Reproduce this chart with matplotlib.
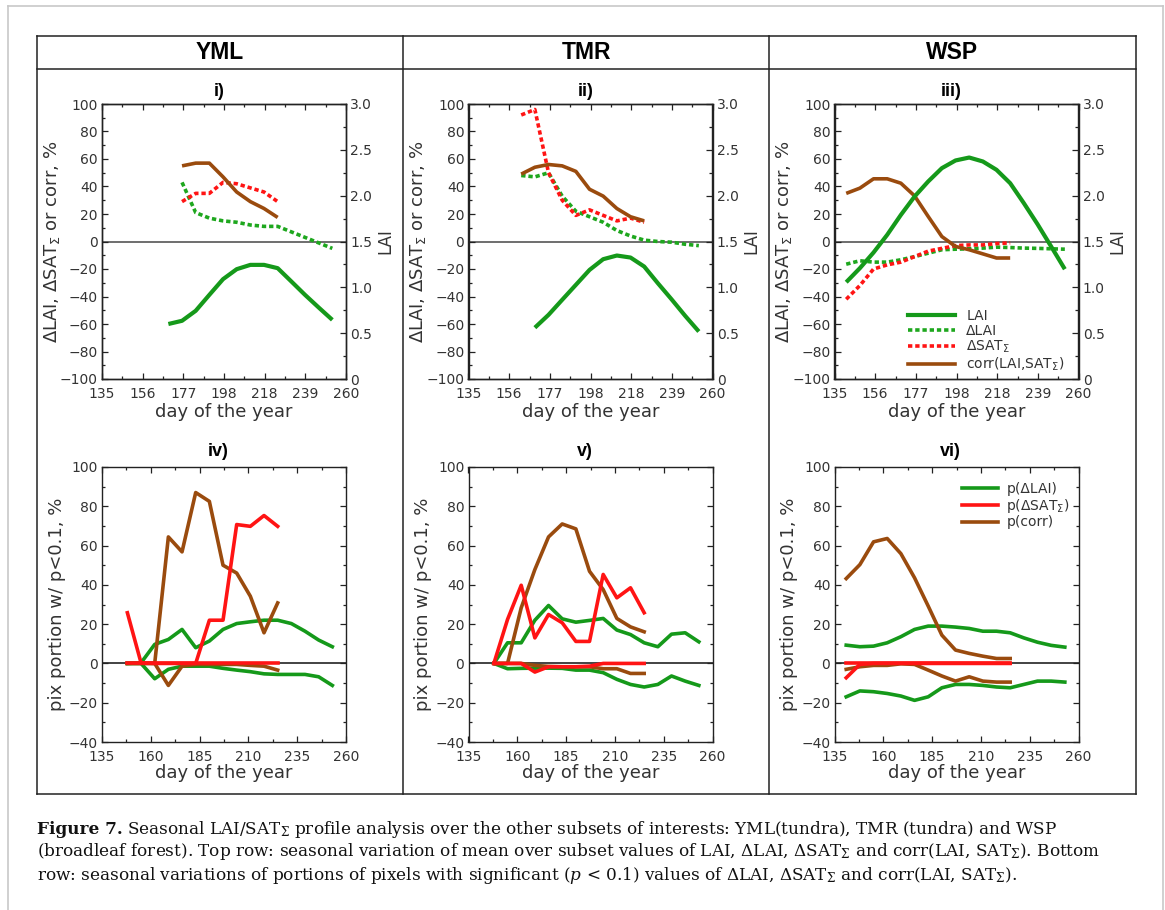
import numpy as np
import matplotlib
matplotlib.use('Agg')
import matplotlib.pyplot as plt
from matplotlib.lines import Line2D
from matplotlib.ticker import MultipleLocator, FixedLocator, FuncFormatter

plt.rcParams['font.family'] = ['DejaVu Sans']
plt.rcParams['mathtext.fontset'] = 'dejavusans'

# ---------------- data ----------------
regions = ['YML', 'TMR', 'WSP']
top_titles = ['i)', 'ii)', 'iii)']
bot_titles = ['iv)', 'v)', 'vi)']
top_xticklabels = ['135', '156', '177', '198', '218', '239', '260']
bot_xticklabels = ['135', '160', '185', '210', '235', '260']

# top row, YML
yml_lai_day = [169, 176, 183, 190, 197, 204, 211, 218, 225, 232, 239, 246, 253]
yml_lai = [0.60, 0.635, 0.744, 0.918, 1.089, 1.198, 1.245, 1.245, 1.209, 1.064, 0.918, 0.78, 0.645]
yml_dlai_day = [176, 183, 190, 197, 204, 211, 218, 225, 232, 239, 246, 253]
yml_dlai = [43, 21, 17, 15, 14, 12, 11, 11, 7, 3, -1, -5]
yml_var_day = [176, 183, 190, 197, 204, 211, 218, 225]
yml_dsat = [29, 35, 35, 43, 42, 39, 36, 29]
yml_corr = [55, 57, 57, 47, 36, 29, 24, 17.5]

# top row, TMR
tmr_lai_day = [169, 176, 183, 190, 197, 204, 211, 218, 225, 232, 239, 246, 253]
tmr_lai = [0.56, 0.70, 0.864, 1.027, 1.19, 1.307, 1.347, 1.325, 1.227, 1.045, 0.87, 0.689, 0.518]
tmr_dlai_day = [162, 169, 176, 183, 190, 197, 204, 211, 218, 225, 232, 239, 246, 253]
tmr_dlai = [48, 47, 50, 33, 22, 18, 14, 8, 4, 1, 0, -0.5, -2, -3]
tmr_var_day = [162, 169, 176, 183, 190, 197, 204, 211, 218, 225]
tmr_dsat = [92, 96, 50, 30, 19, 23, 19, 15, 17, 14]
tmr_corr = [49, 54, 56, 55, 51, 38, 33, 24, 18, 15]

# top row, WSP
wsp_lai_day = [141, 148, 155, 162, 169, 176, 183, 190, 197, 204, 211, 218, 225, 232, 239, 246, 253]
wsp_lai = [1.056, 1.209, 1.38, 1.573, 1.79, 1.99, 2.155, 2.3, 2.384, 2.416, 2.373, 2.282,
           2.136, 1.918, 1.689, 1.445, 1.198]
wsp_dlai = [-16.5, -14, -15, -15, -13.3, -11, -8.5, -6, -5.6, -5.3, -4.8, -4.1, -4.4, -4.8,
            -5, -5.3, -5.6]
wsp_var_day = [141, 148, 155, 162, 169, 176, 183, 190, 197, 204, 211, 218, 225]
wsp_dsat = [-42, -32, -20, -17, -15, -11, -7, -5, -3, -2.5, -2.5, -1.5, -1]
wsp_corr = [35, 38.8, 45.6, 45.6, 42.4, 33.2, 18.2, 3.6, -3.6, -6, -9, -12, -12]

# bottom row, YML
yml_p_day = [148, 155, 162, 169, 176, 183, 190, 197, 204, 211, 218, 225, 232, 239, 246, 253]
yml_p_lai_pos = [0, 0.3, 9.7, 12.2, 17.3, 8, 11.4, 17.3, 20.3, 21.2, 22, 22, 20.3, 16.4, 11.9, 8.5]
yml_p_lai_neg = [0, 0, -7.8, -3, -1.4, -1.4, -1.4, -2.5, -3.4, -4.2, -5.3, -5.6, -5.6, -5.6, -6.8, -11.2]
yml_pv_day = [148, 155, 162, 169, 176, 183, 190, 197, 204, 211, 218, 225]
yml_p_sat_pos = [25.8, 0.3, 0, 0, 0, 0, 22, 22, 70.7, 69.8, 75.3, 69.8]
yml_p_sat_neg = [0, 0, 0, 0, 0, 0, 0, 0, 0, 0, 0, 0]
yml_p_corr_pos = [0, 0, 0, 64.4, 56.8, 87, 82.5, 50, 46, 34.2, 15.6, 30.8]
yml_p_corr_neg = [0, 0, 0, -11.2, -1.4, -0.5, -0.5, -0.5, -0.5, -1, -1.4, -3.4]

# bottom row, TMR
tmr_p_day = [148, 155, 162, 169, 176, 183, 190, 197, 204, 211, 218, 225, 232, 239, 246, 253]
tmr_p_lai_pos = [0, 10.5, 10.5, 22, 29.5, 22.7, 21, 21.9, 22.9, 17, 14.7, 10.5, 8.5, 14.9, 15.6, 11]
tmr_p_lai_neg = [0, -2.7, -2.5, -2.4, -2.4, -2.5, -3.4, -3.4, -4.7, -8.1, -10.7, -12, -10.7, -6.4, -9, -11.2]
tmr_pv_day = [148, 155, 162, 169, 176, 183, 190, 197, 204, 211, 218, 225]
tmr_p_sat_pos = [0, 22.4, 39.8, 13, 24.9, 20.7, 11.2, 11.2, 45.3, 33.4, 38.5, 25.8]
tmr_p_sat_neg = [0, 0, 0, -4.4, -1.7, -1.7, -1.7, -1.4, 0, 0, 0, 0]
tmr_p_corr_pos = [0, 0, 28.3, 47.8, 64.4, 71, 68.5, 46.9, 37.6, 22.9, 18.6, 16.1]
tmr_p_corr_neg = [0, 0, 0, -1, -1.5, -1.7, -1.7, -1.7, -2.7, -2.7, -5.1, -5.1]

# bottom row, WSP
wsp_p_day = [141, 148, 155, 162, 169, 176, 183, 190, 197, 204, 211, 218, 225, 232, 239, 246, 253]
wsp_p_lai_pos = [9.3, 8.5, 8.8, 10.5, 13.6, 17.3, 19, 19, 18.5, 17.8, 16.4, 16.4, 15.6, 13, 10.8, 9.2, 8.3]
wsp_p_lai_neg = [-17, -14, -14.4, -15.3, -16.6, -18.8, -17, -12.4, -10.7, -10.7, -11.2, -12, -12.4,
                 -10.7, -9, -9, -9.5]
wsp_pv_day = [141, 148, 155, 162, 169, 176, 183, 190, 197, 204, 211, 218, 225]
wsp_p_sat_pos = [0, 0, 0, 0, 0, 0, 0, 0, 0, 0, 0, 0, 0]
wsp_p_sat_neg = [-7.3, -0.5, 0, 0, 0, 0, 0, 0, 0, 0, 0, 0, 0]
wsp_p_corr_pos = [43.2, 50.3, 61.9, 63.6, 55.9, 43.6, 29.2, 14.4, 6.8, 5.1, 3.7, 2.5, 2.5]
wsp_p_corr_neg = [-3, -1.7, -1, -1, -0.2, -0.5, -3.4, -6.4, -9, -6.8, -9, -9.5, -9.5]

top_data = [
    (yml_lai_day, yml_lai, yml_dlai_day, yml_dlai, yml_var_day, yml_dsat, yml_corr),
    (tmr_lai_day, tmr_lai, tmr_dlai_day, tmr_dlai, tmr_var_day, tmr_dsat, tmr_corr),
    (wsp_lai_day, wsp_lai, wsp_lai_day, wsp_dlai, wsp_var_day, wsp_dsat, wsp_corr),
]
bot_data = [
    (yml_p_day, yml_p_lai_pos, yml_p_lai_neg, yml_pv_day, yml_p_sat_pos, yml_p_sat_neg,
     yml_p_corr_pos, yml_p_corr_neg),
    (tmr_p_day, tmr_p_lai_pos, tmr_p_lai_neg, tmr_pv_day, tmr_p_sat_pos, tmr_p_sat_neg,
     tmr_p_corr_pos, tmr_p_corr_neg),
    (wsp_p_day, wsp_p_lai_pos, wsp_p_lai_neg, wsp_pv_day, wsp_p_sat_pos, wsp_p_sat_neg,
     wsp_p_corr_pos, wsp_p_corr_neg),
]

# ---------------- style ----------------
GREEN = '#15991a'
GREEN_DOT = '#1ea71e'
RED = '#ff1414'
BROWN = '#9a4b0e'
TXT = '#333333'
DOT = (0, (1.2, 0.8))
LW = 2.6

W, H = 1165, 910
fig = plt.figure(figsize=(W / 100, H / 100), dpi=100)


def fx(px):
    return px / W


def fy(py):
    return 1 - py / H


def hline(x0, x1, y, **kw):
    fig.add_artist(Line2D([fx(x0), fx(x1)], [fy(y), fy(y)], transform=fig.transFigure, **kw))


def vline(x, y0, y1, **kw):
    fig.add_artist(Line2D([fx(x), fx(x)], [fy(y0), fy(y1)], transform=fig.transFigure, **kw))


# outer light frame
hline(7.5, 1163, 6, color='#c8c8c8', lw=1.2)
vline(7.5, 6, 910, color='#c8c8c8', lw=1.2)
vline(1163, 6, 910, color='#c8c8c8', lw=1.2)

# table box
box = dict(color='#222222', lw=1.1)
hline(36.7, 1135.7, 36, **box)
hline(36.7, 1135.7, 69, **box)
hline(36.7, 1135.7, 794.3, **box)
for xx in [36.7, 403, 769, 1135.7]:
    vline(xx, 36, 794.3, **box)
for xc, name in zip([220, 586, 952], regions):
    fig.text(fx(xc), fy(52.5), name, ha='center', va='center', fontsize=16.5,
             fontweight='bold', family='Liberation Sans')

col_left = [102, 468.5, 834.5]
AX_W, AX_H = 244, 275


def style_ticks(ax):
    ax.tick_params(which='both', direction='in', top=True, colors='#222222', labelcolor=TXT,
                   labelsize=10, width=0.9)
    ax.tick_params(which='major', length=4.5)
    ax.tick_params(which='minor', length=2.5)
    ax.tick_params(axis='x', pad=5.5)
    ax.tick_params(axis='y', pad=3)
    for s in ax.spines.values():
        s.set_color('#222222')
        s.set_linewidth(1.0)


lai_fmt = FuncFormatter(lambda v, p: '0' if v == 0 else '%.1f' % v)

# ---------------- top row ----------------
for i, (lai_d, lai, dlai_d, dlai, var_d, dsat, corr) in enumerate(top_data):
    l = col_left[i]
    ax = fig.add_axes([fx(l), fy(104 + AX_H), fx(AX_W), AX_H / H])
    ax.set_xlim(135, 260)
    ax.set_ylim(-100, 100)
    ax.axhline(0, color='#555555', lw=1.2, zorder=1)
    ax.plot(dlai_d, dlai, color=GREEN_DOT, lw=LW, linestyle=DOT, dash_capstyle='butt')
    ax.plot(var_d, dsat, color=RED, lw=LW, linestyle=DOT, dash_capstyle='butt')
    ax.plot(var_d, corr, color=BROWN, lw=LW, solid_capstyle='butt')
    ax.xaxis.set_major_locator(FixedLocator(np.linspace(135, 260, 7)))
    ax.set_xticklabels(top_xticklabels)
    ax.xaxis.set_minor_locator(FixedLocator(np.linspace(135, 260, 13)))
    ax.yaxis.set_major_locator(MultipleLocator(20))
    ax.yaxis.set_minor_locator(MultipleLocator(10))
    style_ticks(ax)
    ax.tick_params(axis='y', which='both', right=False)
    ax.set_xlabel('day of the year', fontsize=13, color=TXT)
    ax.xaxis.set_label_coords(0.5, -23.5 / AX_H)
    ax.set_ylabel('ΔLAI, ΔSAT$_\\Sigma$ or corr, %', fontsize=13, color=TXT)
    ax.yaxis.set_label_coords(-40 / AX_W, 0.5)

    ax2 = ax.twinx()
    ax2.set_ylim(0, 3)
    ax2.plot(lai_d, lai, color=GREEN, lw=LW + 0.4, solid_capstyle='butt')
    ax2.yaxis.set_major_locator(MultipleLocator(0.5))
    ax2.yaxis.set_minor_locator(MultipleLocator(0.25))
    ax2.yaxis.set_major_formatter(lai_fmt)
    style_ticks(ax2)
    ax2.tick_params(axis='y', pad=3)
    ax2.set_ylabel('LAI', fontsize=12, color=TXT)
    ax2.yaxis.set_label_coords(1 + 30 / AX_W, 0.5)

    fig.text(fx(l + AX_W / 2 - 5), fy(92), top_titles[i], ha='center', va='center',
             fontsize=13, fontweight='bold', family='Liberation Sans')

    if i == 2:
        handles = [Line2D([], [], color=GREEN, lw=LW + 0.4),
                   Line2D([], [], color=GREEN_DOT, lw=LW, linestyle=DOT, dash_capstyle='butt'),
                   Line2D([], [], color=RED, lw=LW, linestyle=DOT, dash_capstyle='butt'),
                   Line2D([], [], color=BROWN, lw=LW)]
        labels = ['LAI', 'ΔLAI', 'ΔSAT$_\\Sigma$', 'corr(LAI,SAT$_\\Sigma$)']
        ax2.legend(handles, labels, loc='upper left', bbox_to_anchor=(fx(908), fy(309)),
                   bbox_transform=fig.transFigure, frameon=False, fontsize=10,
                   handlelength=3.4, handletextpad=0.8, labelspacing=0.05,
                   borderpad=0, borderaxespad=0, labelcolor=TXT)

# ---------------- bottom row ----------------
for i, (pd_, lpos, lneg, vd, spos, sneg, cpos, cneg) in enumerate(bot_data):
    l = col_left[i]
    ax = fig.add_axes([fx(l), fy(467 + AX_H), fx(AX_W), AX_H / H])
    ax.set_xlim(135, 260)
    ax.set_ylim(-40, 100)
    ax.axhline(0, color='#222222', lw=1.2, zorder=1)
    ax.plot(pd_, lpos, color=GREEN, lw=LW)
    ax.plot(pd_, lneg, color=GREEN, lw=LW)
    ax.plot(vd, cpos, color=BROWN, lw=LW)
    ax.plot(vd, cneg, color=BROWN, lw=LW)
    ax.plot(vd, spos, color=RED, lw=LW)
    ax.plot(vd, sneg, color=RED, lw=LW)
    ax.xaxis.set_major_locator(FixedLocator(np.linspace(135, 260, 6)))
    ax.set_xticklabels(bot_xticklabels)
    ax.xaxis.set_minor_locator(FixedLocator(np.linspace(135, 260, 11)))
    ax.yaxis.set_major_locator(MultipleLocator(20))
    ax.yaxis.set_minor_locator(MultipleLocator(10))
    style_ticks(ax)
    ax.tick_params(which='both', right=True)
    ax.set_xlabel('day of the year', fontsize=13, color=TXT)
    ax.xaxis.set_label_coords(0.5, -22.5 / AX_H)
    ax.set_ylabel('pix portion w/ p<0.1, %', fontsize=13, color=TXT)
    ax.yaxis.set_label_coords(-36 / AX_W, 0.5)

    fig.text(fx(l + AX_W / 2 - 6), fy(452), bot_titles[i], ha='center', va='center',
             fontsize=13, fontweight='bold', family='Liberation Sans')

    if i == 2:
        handles = [Line2D([], [], color=GREEN, lw=LW),
                   Line2D([], [], color=RED, lw=LW),
                   Line2D([], [], color=BROWN, lw=LW)]
        labels = ['p(ΔLAI)', 'p(ΔSAT$_\\Sigma$)', 'p(corr)']
        ax.legend(handles, labels, loc='upper left', bbox_to_anchor=(fx(962), fy(482)),
                  bbox_transform=fig.transFigure, frameon=False, fontsize=10,
                  handlelength=2.6, handletextpad=0.6, labelspacing=0.05,
                  borderpad=0, borderaxespad=0, labelcolor=TXT)

# ---------------- caption ----------------
cap_font = dict(family='DejaVu Serif', fontsize=12.2, math_fontfamily='dejavuserif',
                va='center', ha='left', color='#111111')
cap_lines = [
    'Seasonal LAI/SAT$_\\Sigma$ profile analysis over the other subsets of interests: '
    'YML(tundra), TMR (tundra) and WSP',
    '(broadleaf forest). Top row: seasonal variation of mean over subset values of LAI, '
    'ΔLAI, ΔSAT$_\\Sigma$ and corr(LAI, SAT$_\\Sigma$). Bottom',
    'row: seasonal variations of portions of pixels with significant ($p$ < 0.1) values of '
    'ΔLAI, ΔSAT$_\\Sigma$ and corr(LAI, SAT$_\\Sigma$).',
]
t0 = fig.text(fx(37), fy(829), 'Figure 7.', fontweight='bold', **cap_font)
fig.canvas.draw()
bb = t0.get_window_extent(fig.canvas.get_renderer())
fig.text(bb.x1 / W + fx(4), fy(829), cap_lines[0], **cap_font)
fig.text(fx(37), fy(852), cap_lines[1], **cap_font)
fig.text(fx(37), fy(875), cap_lines[2], **cap_font)

fig.savefig('out.png', dpi=100)
